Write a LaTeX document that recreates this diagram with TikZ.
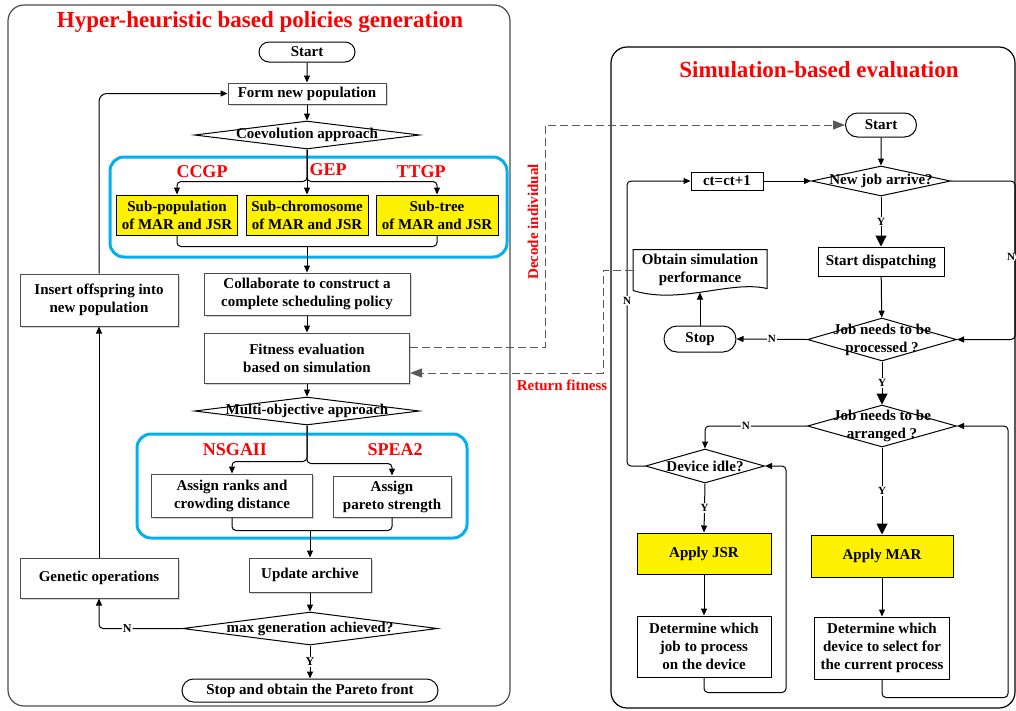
\documentclass[tikz,border=0pt]{standalone}
\usepackage{fontspec}
\setmainfont{Liberation Serif}
\usepackage{xcolor}
\usetikzlibrary{arrows.meta,positioning,shapes.geometric,shapes.misc,shadows}
\definecolor{grpblue}{RGB}{0,176,240}
\newcommand{\bodyfont}{\bfseries\fontsize{15}{18}\selectfont}
\newcommand{\ynfont}{\bfseries\fontsize{12}{14}\selectfont}
\newcommand{\ynsmall}{\bfseries\fontsize{11}{13}\selectfont}

\begin{document}
\begin{tikzpicture}[x=1pt,y=-1pt,line width=1pt,
  box/.style={draw=black!70,fill=white,font=\bodyfont,align=center,inner sep=1pt,
    drop shadow={shadow xshift=1.5pt,shadow yshift=-1.5pt,opacity=0.35}},
  plainbox/.style={draw,fill=white,font=\bodyfont,align=center,inner sep=1pt},
  rulebox/.style={plainbox,fill=yellow},
  term/.style={rounded rectangle,draw,font=\bodyfont,inner sep=1pt},
  decide/.style={diamond,draw,inner sep=0pt,
    label={[font=\bodyfont,align=center]center:#1}},
  grp/.style={draw=grpblue,line width=3pt,rounded corners=14pt},
  panel/.style={rounded corners=16pt,line width=1.2pt},
  ttl/.style={text=red,font=\bfseries\fontsize{23}{26}\selectfont},
  lbl/.style={text=red,font=\bfseries\fontsize{18}{20}\selectfont},
  side/.style={text=red,font=\bfseries\fontsize{15}{18}\selectfont},
  yn/.style={fill=white,inner sep=1pt,font=\ynfont},
  ynr/.style={fill=white,inner sep=1pt,font=\ynsmall},
  arr/.style={-{Triangle[length=7pt,width=6pt]}},
  bigarr/.style={-{Triangle[length=11pt,width=11pt]}},
  dsh/.style={draw=black!65,dash pattern=on 8pt off 4pt,
    -{Triangle[length=12pt,width=9pt]}}]
\useasboundingbox (0,0) rectangle (1016,710);

% panels
\draw[panel,draw=black!70] (8,5) rectangle (510,706);
\draw[panel] (611,47) rectangle (1015,708);
\draw[grp] (110,157) rectangle (507,257);
\draw[grp] (137,434) rectangle (467,538);
\node[ttl] (lefttitle) at (260,22) {Hyper-heuristic based policies generation};
\node[ttl] (righttitle) at (819,70) {Simulation-based evaluation};

% policy generation
\node[term,minimum width=98,minimum height=20] (start) at (307,52) {Start};
\node[box,minimum width=158,minimum height=21] (form) at (307,93.5) {Form new population};
\node[decide={Coevolution approach},minimum width=225,minimum height=28] (coev) at (307,135) {};
\node[rulebox,minimum width=121,minimum height=40] (subpop) at (177,215) {Sub-population\\of MAR and JSR};
\node[rulebox,minimum width=122,minimum height=40] (subchrom) at (307,215) {Sub-chromosome\\of MAR and JSR};
\node[rulebox,minimum width=122,minimum height=40] (subtree) at (437,215) {Sub-tree\\of MAR and JSR};
\node[lbl] (ccgp) at (202,172) {CCGP};
\node[lbl] (gep) at (328,170) {GEP};
\node[lbl] (ttgp) at (421,172) {TTGP};
\node[box,minimum width=206,minimum height=42] (collab) at (307,294) {Collaborate to construct a\\complete scheduling policy};
\node[box,minimum width=205,minimum height=50] (fitness) at (307,358) {Fitness evaluation\\based on simulation};
\node[decide={Multi-objective approach},minimum width=225,minimum height=28] (multi) at (307,411) {};
\node[lbl] (nsga) at (235,450) {NSGAII};
\node[lbl] (spea) at (395,450) {SPEA2};
\node[box,minimum width=161,minimum height=43] (ranks) at (232,495.5) {Assign ranks and\\crowding distance};
\node[box,minimum width=118,minimum height=41] (pareto) at (392,496.5) {Assign\\pareto strength};
\node[box,minimum width=122,minimum height=34] (update) at (310,575) {Update archive};
\node[decide={max generation achieved?},minimum width=255,minimum height=33] (maxgen) at (310,628.5) {};
\node[term,minimum width=258,minimum height=23] (finish) at (310,690.5) {Stop and obtain the Pareto front};
\node[box,minimum width=158,minimum height=40] (genop) at (99,578) {Genetic operations};
\node[box,minimum width=158,minimum height=52] (insert) at (99,300) {Insert offspring into\\new population};

\draw[arr] (start) -- (form);
\draw[arr] (form) -- (coev);
\draw[arr] (coev.south) -- (subchrom.north);
\draw[arr,rounded corners=4pt] (coev.south) |- ([yshift=13pt]subpop.north) -- (subpop.north);
\draw[arr,rounded corners=4pt] (coev.south) |- ([yshift=13pt]subtree.north) -- (subtree.north);
\draw[rounded corners=4pt] (subpop.south) |- ([yshift=26pt]collab.north);
\draw[rounded corners=4pt] (subtree.south) |- ([yshift=26pt]collab.north);
\draw[arr] ([yshift=26pt]collab.north) -- (collab.north);
\draw[arr] (collab) -- (fitness);
\draw[arr] (fitness) -- (multi);
\draw[arr,rounded corners=4pt] (multi.south) |- ([yshift=12pt]ranks.north) -- (ranks.north);
\draw[arr,rounded corners=4pt] (multi.south) |- ([yshift=12pt]pareto.north) -- (pareto.north);
\draw[rounded corners=4pt] (ranks.south) |- ([yshift=27pt]update.north);
\draw[rounded corners=4pt] (pareto.south) |- ([yshift=27pt]update.north);
\draw[arr] ([yshift=27pt]update.north) -- (update.north);
\draw[arr] (update) -- (maxgen);
\draw[arr] (maxgen.south) -- node[yn] {Y} (finish.north);
\draw[arr,rounded corners=4pt] (maxgen.west) -| node[pos=0.33,yn] {N} (genop.south);
\draw[arr] (genop) -- (insert);
\draw[arr,rounded corners=8pt] (insert.north) |- (form.west);

% simulation
\node[term,minimum width=73,minimum height=24] (sstart) at (881,125) {Start};
\node[plainbox,minimum width=72,minimum height=18] (ctinc) at (727,181) {ct=ct+1};
\node[decide={New job arrive?},minimum width=139,minimum height=30] (newjob) at (881,181) {};
\node[plainbox,minimum width=126,minimum height=29] (dispatch) at (881,261.5) {Start dispatching};
\node[decide={Job needs to be\\processed ?},minimum width=149,minimum height=43] (processed) at (882,339.5) {};
\node[term,minimum width=74,minimum height=26] (stop) at (700,339) {Stop};
\node[font=\bodyfont,align=center,minimum width=133,minimum height=40,inner sep=0pt] (obtain) at (700,270) {Obtain simulation\\performance};
\draw (obtain.south west) -- (obtain.north west) -- (obtain.north east)
  -- ([yshift=2pt]obtain.south east) .. controls (730,280) and (680,305) .. (obtain.south west);
\node[decide={Job needs to be\\arranged ?},minimum width=149,minimum height=42] (arranged) at (882,426) {};
\node[decide={Device idle?},minimum width=119,minimum height=34] (idle) at (705,466) {};
\node[rulebox,minimum width=134,minimum height=41] (jsr) at (704,553.5) {Apply JSR};
\node[plainbox,minimum width=134,minimum height=61] (detjob) at (704,646.5) {Determine which\\job to process\\on the device};
\node[rulebox,minimum width=142,minimum height=42] (mar) at (882,556) {Apply MAR};
\node[plainbox,minimum width=135,minimum height=62] (detdev) at (882,648) {Determine which\\device to select for\\the current process};

\draw[arr] (sstart) -- (newjob);
\draw[arr] (ctinc) -- (newjob);
\draw[bigarr] (newjob.south) -- node[ynr] {Y} (dispatch.north);
\draw[arr] (dispatch) -- (processed);
\draw[arr,rounded corners=4pt] (newjob.east) -| node[pos=0.74,ynr,xshift=-4pt] {N} ([xshift=58pt]processed.east) -- (processed.east);
\draw[arr] (processed.west) -- node[ynr] {N} (stop.east);
\draw[arr] (stop.north) -- ([yshift=-2pt]obtain.south);
\draw[bigarr] (processed.south) -- node[ynr] {Y} (arranged.north);
\draw[arr,rounded corners=4pt] (arranged.west) -| node[pos=0.3,ynr] {N} (idle.north);
\draw[arr,rounded corners=4pt] (idle.west) -- ++(-18,0) |- node[pos=0.29,ynr] {N} (ctinc.west);
\draw[arr] (idle.south) -- node[ynr] {Y} (jsr.north);
\draw[arr] (jsr) -- (detjob);
\draw[arr,rounded corners=4pt] (detjob.south) -- ++(0,15) -| ([xshift=21pt]idle.east) -- (idle.east);
\draw[bigarr] (arranged.south) -- node[ynr] {Y} (mar.north);
\draw[arr] (mar) -- (detdev);
\draw[arr,rounded corners=4pt] (detdev.south) -- ++(0,18) -| ([xshift=51pt]arranged.east) -- (arranged.east);

% exchange between the two parts
\coordinate (decodebend) at (545,125);
\coordinate (returnbend) at (603,373);
\draw[dsh] ([yshift=11pt]fitness.east) -| (decodebend) -- (sstart.west);
\draw[dsh] (obtain.west) -| (returnbend) -- ([yshift=-15pt]fitness.east);
\node[side,rotate=90] (decodelbl) at (533,222) {Decode individual};
\node[side] (returnlbl) at (562,385) {Return fitness};
\end{tikzpicture}
\end{document}
